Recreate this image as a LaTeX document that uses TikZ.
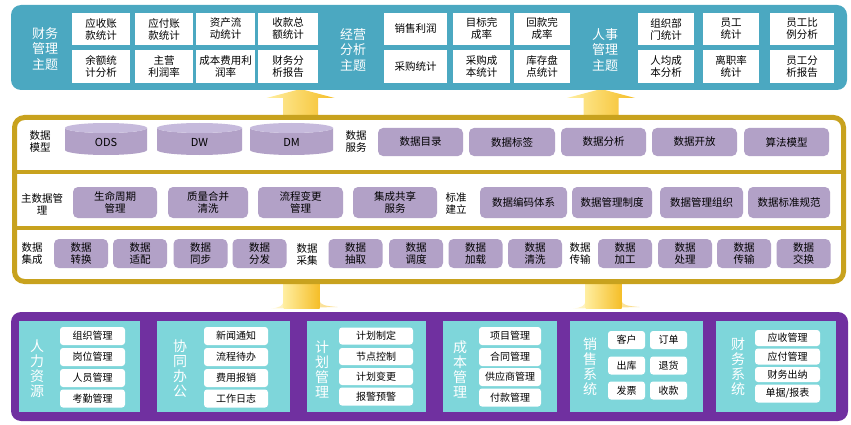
\documentclass[tikz,border=0pt]{standalone}
\usepackage{fontspec}
\setmainfont{Noto Sans CJK SC}
\definecolor{topblue}{RGB}{75,168,193}
\definecolor{gold}{RGB}{200,162,30}
\definecolor{lav}{RGB}{178,161,199}
\definecolor{lavtop}{RGB}{198,186,220}
\definecolor{purp}{RGB}{112,48,160}
\definecolor{cyanp}{RGB}{126,214,218}
\definecolor{arrowL}{RGB}{255,238,160}
\definecolor{arrowR}{RGB}{245,190,40}
\tikzset{
 sz/.style 2 args={minimum width=#1pt, minimum height=#2pt},
 band/.style={inner sep=0pt, rounded corners=10pt},
 topbox/.style={fill=white, inner sep=0pt, align=center, font=\fontsize{10.5}{12}\selectfont},
 toplabel/.style={text=white, align=center, inner sep=0pt, font=\fontsize{13}{15.5}\selectfont},
 lavbox/.style={fill=lav, rounded corners=5pt, inner sep=0pt, align=center, font=\fontsize{10.5}{12.5}\selectfont},
 midlabel/.style={align=center, inner sep=0pt, font=\fontsize{10.5}{12}\selectfont},
 cyltext/.style={inner sep=0pt, font=\fontsize{11}{13}\selectfont},
 panel/.style={fill=cyanp, inner sep=0pt},
 item/.style={fill=white, rounded corners=3pt, inner sep=0pt, align=center, font=\fontsize{10}{12}\selectfont},
 plabel/.style={text=white, align=center, inner sep=0pt, font=\fontsize{14}{15}\selectfont},
 uparrow/.style={left color=arrowL, right color=arrowR},
}
\begin{document}
\begin{tikzpicture}[x=1pt,y=-1pt]
\useasboundingbox (0,0) rectangle (851,425);
% yellow arrows (behind bands)
\foreach \cx in {300.5,601}{
  \path[uparrow] (\cx-17.5,116) -- (\cx-17.5,98) -- (\cx-34,98) -- (\cx,89) -- (\cx+34,98) -- (\cx+17.5,98) -- (\cx+17.5,116) -- cycle;
}
\foreach \cx in {301.5,603.5}{
  \path[uparrow, opacity=0.55] (\cx-18,300) .. controls (\cx-18,306) and (\cx-22,307.5) .. (\cx-30,308.5) -- (\cx+36,307) .. controls (\cx+24,306) and (\cx+18,305) .. (\cx+18,300) -- cycle;
  \path[uparrow] (\cx-18,282) rectangle (\cx+18,308);
}
% ===== top band =====
\node[band, fill=topblue, sz={836}{85}] (topband) at (429,47.5) {};
\node[toplabel] (fin) at (45,49) {财务\\管理\\主题};
\node[topbox, sz={58}{32}] (f1) at (101,29) {应收账\\款统计};
\node[topbox, sz={58}{32}] (f2) at (164,29) {应付账\\款统计};
\node[topbox, sz={59}{32}] (f3) at (225.5,29) {资产流\\动统计};
\node[topbox, sz={60}{32}] (f4) at (288,29) {收款总\\额统计};
\node[topbox, sz={58}{33}] (f5) at (101,66.5) {余额统\\计分析};
\node[topbox, sz={58}{33}] (f6) at (164,66.5) {主营\\利润率};
\node[topbox, sz={59}{33}] (f7) at (225.5,66.5) {成本费用利\\润率};
\node[topbox, sz={60}{33}] (f8) at (288,66.5) {财务分\\析报告};
\node[toplabel] (biz) at (353,50) {经营\\分析\\主题};
\node[topbox, sz={63}{32}] (b1) at (415.5,29) {销售利润};
\node[topbox, sz={57}{32}] (b2) at (481.5,29) {目标完\\成率};
\node[topbox, sz={56}{32}] (b3) at (542,29) {回款完\\成率};
\node[topbox, sz={63}{33}] (b4) at (415.5,66.5) {采购统计};
\node[topbox, sz={57}{33}] (b5) at (481.5,66.5) {采购成\\本统计};
\node[topbox, sz={56}{33}] (b6) at (542,66.5) {库存盘\\点统计};
\node[toplabel] (hr) at (605,50) {人事\\管理\\主题};
\node[topbox, sz={56}{32}] (h1) at (666,29) {组织部\\门统计};
\node[topbox, sz={56}{32}] (h2) at (731,29) {员工\\统计};
\node[topbox, sz={64}{32}] (h3) at (802,29) {员工比\\例分析};
\node[topbox, sz={56}{33}] (h4) at (666,66.5) {人均成\\本分析};
\node[topbox, sz={56}{33}] (h5) at (731,66.5) {离职率\\统计};
\node[topbox, sz={64}{33}] (h6) at (802,66.5) {员工分\\析报告};
% ===== middle band =====
\node[band, draw=gold, line width=5pt, fill=white, sz={829}{164}] (midband) at (429,199.5) {};
\draw[gold, line width=4pt] (14.5,172) -- (843.5,172);
\draw[gold, line width=4pt] (14.5,228) -- (843.5,228);
% row 1
\node[midlabel] (lmodel) at (40,142) {数据\\模型};
\foreach \nm/\cx/\w/\t in {ods/106/82/ODS, dw/199.5/85/DW, dm/291.5/83/DM}{
  \fill[lav] (\cx-\w/2,128) -- (\cx-\w/2,150) arc[start angle=180, end angle=0, x radius=\w/2, y radius=5] -- (\cx+\w/2,128) arc[start angle=0, end angle=180, x radius=\w/2, y radius=5] -- cycle;
  \fill[lavtop] (\cx,128) ellipse[x radius=\w/2, y radius=5];
  \node[cyltext] (\nm) at (\cx,142) {\t};
}
\node[midlabel] (lserv) at (356,142) {数据\\服务};
\node[lavbox, sz={85}{28}] (s1) at (420.5,142) {数据目录};
\node[lavbox, sz={86}{28}] (s2) at (512,142) {数据标签};
\node[lavbox, sz={85}{28}] (s3) at (603.5,142) {数据分析};
\node[lavbox, sz={85}{28}] (s4) at (694.5,142) {数据开放};
\node[lavbox, sz={85}{28}] (s5) at (786.5,142) {算法模型};
% row 2
\node[midlabel] (lmdm) at (42,204) {主数据管\\理};
\node[lavbox, sz={84}{31}] (m1) at (115,202.5) {生命周期\\管理};
\node[lavbox, sz={80}{31}] (m2) at (208,202.5) {质量合并\\清洗};
\node[lavbox, sz={85}{31}] (m3) at (300.5,202.5) {流程变更\\管理};
\node[lavbox, sz={84}{31}] (m4) at (395,202.5) {集成共享\\服务};
\node[midlabel] (lstd) at (456,204) {标准\\建立};
\node[lavbox, sz={87}{31}] (t1) at (523.5,202.5) {数据编码体系};
\node[lavbox, sz={80}{31}] (t2) at (612,202.5) {数据管理制度};
\node[lavbox, sz={83}{31}] (t3) at (701.5,202.5) {数据管理组织};
\node[lavbox, sz={82}{31}] (t4) at (789,202.5) {数据标准规范};
% row 3
\node[midlabel] (lint) at (32,254) {数据\\集成};
\node[lavbox, sz={54}{29}] (i1) at (81,253.5) {数据\\转换};
\node[lavbox, sz={54}{29}] (i2) at (140,253.5) {数据\\适配};
\node[lavbox, sz={54}{29}] (i3) at (200.5,253.5) {数据\\同步};
\node[lavbox, sz={54}{29}] (i4) at (259.5,253.5) {数据\\分发};
\node[midlabel] (lcol) at (307,254) {数据\\采集};
\node[lavbox, sz={54}{29}] (c1) at (355.5,253.5) {数据\\抽取};
\node[lavbox, sz={54}{29}] (c2) at (416,253.5) {数据\\调度};
\node[lavbox, sz={54}{29}] (c3) at (475.5,253.5) {数据\\加载};
\node[lavbox, sz={54}{29}] (c4) at (535,253.5) {数据\\清洗};
\node[midlabel] (ltr) at (580,254) {数据\\传输};
\node[lavbox, sz={54}{29}] (r1) at (625,253.5) {数据\\加工};
\node[lavbox, sz={54}{29}] (r2) at (685,253.5) {数据\\处理};
\node[lavbox, sz={54}{29}] (r3) at (744,253.5) {数据\\传输};
\node[lavbox, sz={54}{29}] (r4) at (803.5,253.5) {数据\\交换};
% ===== bottom band =====
\node[band, fill=purp, sz={837}{109}] (botband) at (429.5,366.5) {};
% panel 1
\node[panel, sz={121}{91}] (p1) at (79.5,366.5) {};
\node[plabel] (p1l) at (37,369) {人\\力\\资\\源};
\node[item, sz={65}{18}] (p1a) at (92.5,336) {组织管理};
\node[item, sz={65}{18}] (p1b) at (92.5,357) {岗位管理};
\node[item, sz={65}{18}] (p1c) at (92.5,378) {人员管理};
\node[item, sz={65}{18}] (p1d) at (92.5,398.5) {考勤管理};
% panel 2
\node[panel, sz={133}{91}] (p2) at (223.5,366.5) {};
\node[plabel] (p2l) at (180,369) {协\\同\\办\\公};
\node[item, sz={64}{18}] (p2a) at (236,336) {新闻通知};
\node[item, sz={64}{18}] (p2b) at (236,357) {流程待办};
\node[item, sz={64}{18}] (p2c) at (236,378) {费用报销};
\node[item, sz={64}{18}] (p2d) at (236,398.5) {工作日志};
% panel 3
\node[panel, sz={119}{91}] (p3) at (366.5,366.5) {};
\node[plabel] (p3l) at (322,369) {计\\划\\管\\理};
\node[item, sz={74}{17}] (p3a) at (376,336) {计划制定};
\node[item, sz={74}{17}] (p3b) at (376,356.5) {节点控制};
\node[item, sz={74}{17}] (p3c) at (376,376.5) {计划变更};
\node[item, sz={74}{18}] (p3d) at (376,396.5) {报警预警};
% panel 4
\node[panel, sz={114}{91}] (p4) at (500,366.5) {};
\node[plabel] (p4l) at (460,369) {成\\本\\管\\理};
\node[item, sz={62}{18}] (p4a) at (510,336) {项目管理};
\node[item, sz={62}{18}] (p4b) at (510,357) {合同管理};
\node[item, sz={62}{18}] (p4c) at (510,377) {供应商管理};
\node[item, sz={62}{18}] (p4d) at (510,397.5) {付款管理};
% panel 5
\node[panel, sz={133}{91}] (p5) at (636.5,366.5) {};
\node[plabel] (p5l) at (590,367) {销\\售\\系\\统};
\node[item, sz={37}{18}] (p5a) at (626.5,340) {客户};
\node[item, sz={37}{18}] (p5b) at (668.5,340) {订单};
\node[item, sz={37}{18}] (p5c) at (626.5,365.5) {出库};
\node[item, sz={37}{18}] (p5d) at (668.5,365.5) {退货};
\node[item, sz={37}{18}] (p5e) at (626.5,390.5) {发票};
\node[item, sz={37}{18}] (p5f) at (668.5,390.5) {收款};
% panel 6
\node[panel, sz={120}{91}] (p6) at (776,366.5) {};
\node[plabel] (p6l) at (738,367) {财\\务\\系\\统};
\node[item, sz={65}{16}] (p6a) at (787.5,338) {应收管理};
\node[item, sz={65}{16}] (p6b) at (787.5,356.5) {应付管理};
\node[item, sz={65}{15}] (p6c) at (787.5,374.5) {财务出纳};
\node[item, sz={65}{18}] (p6d) at (787.5,393.5) {单据/报表};
\end{tikzpicture}
\end{document}
